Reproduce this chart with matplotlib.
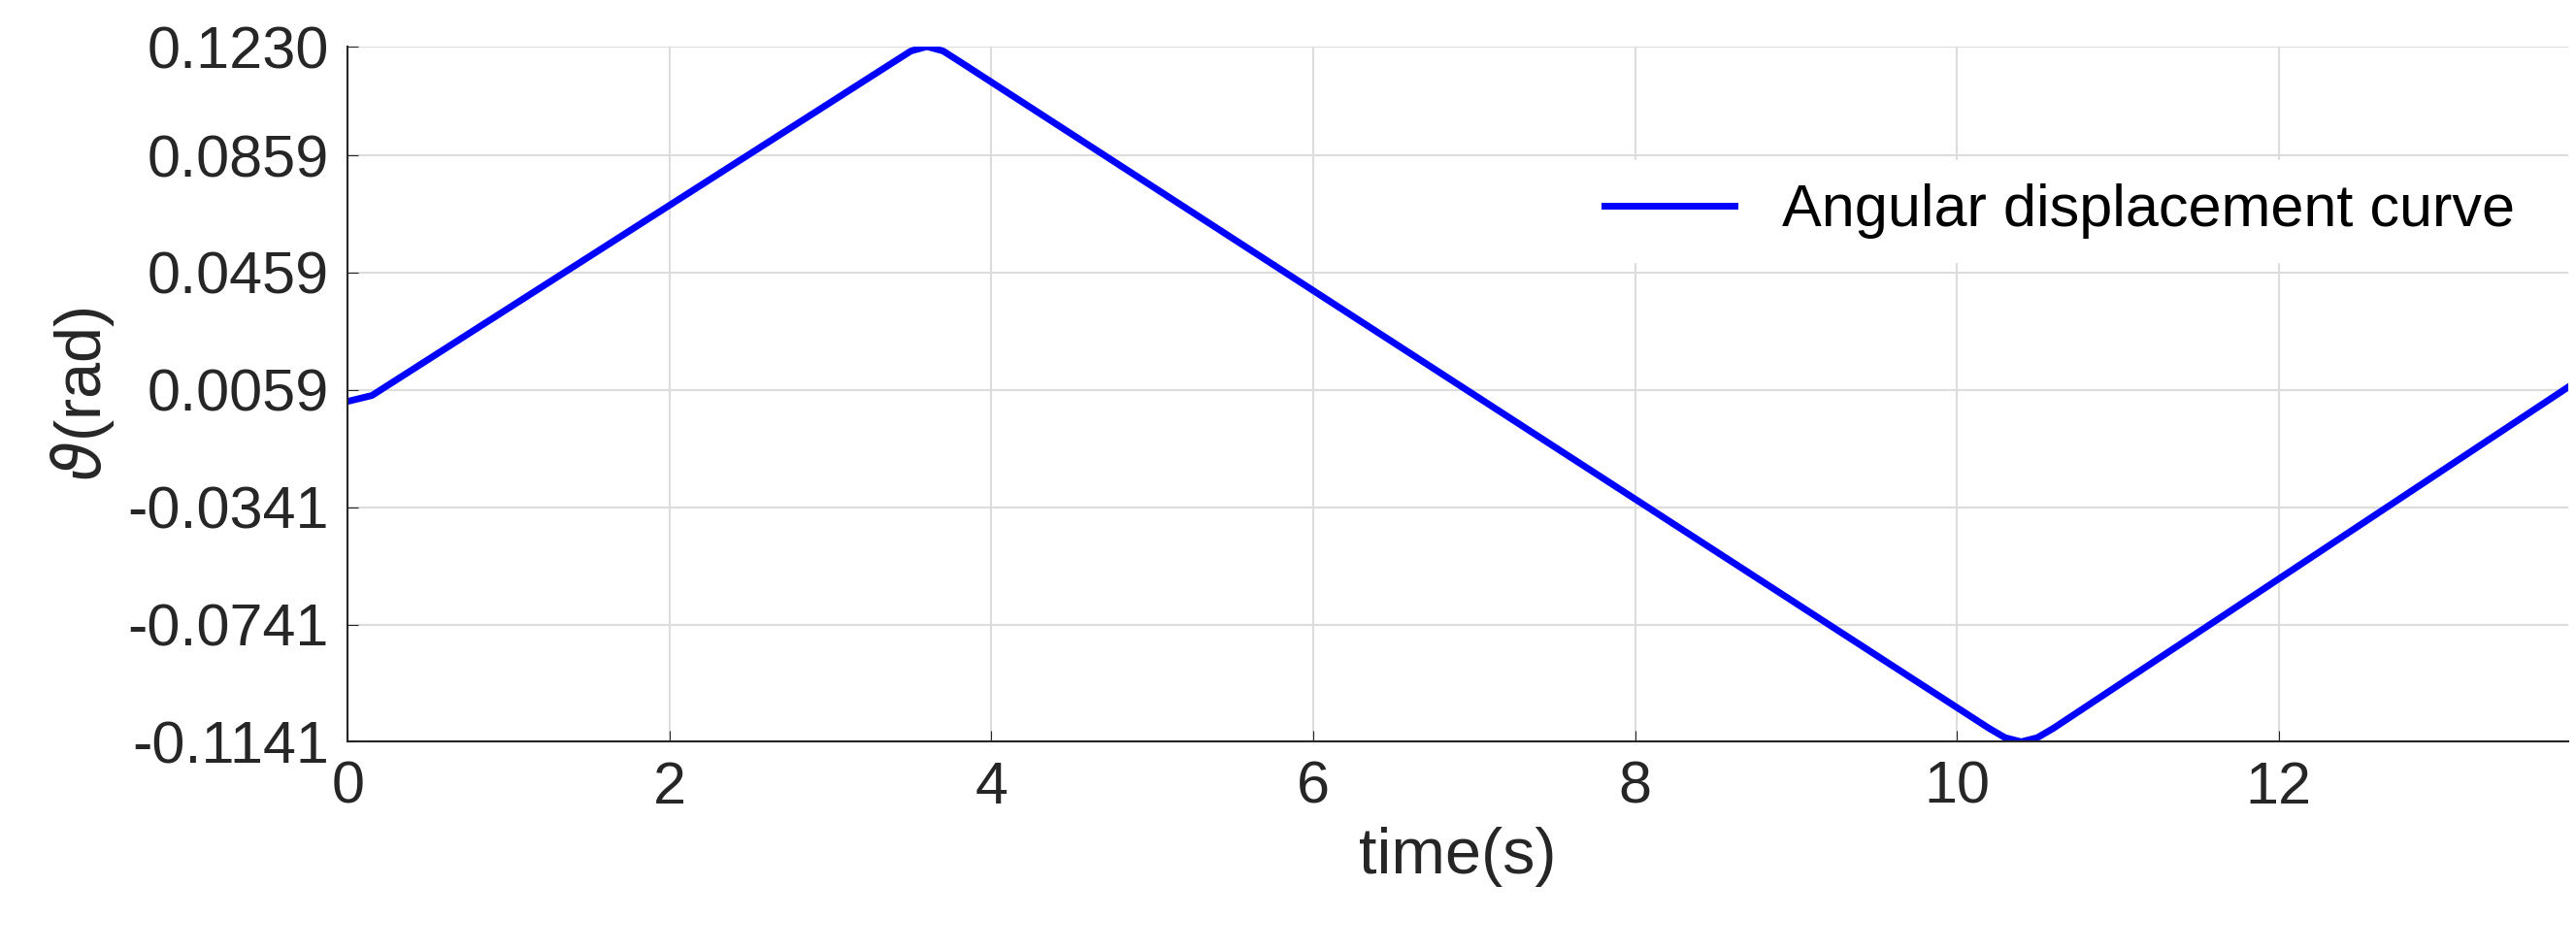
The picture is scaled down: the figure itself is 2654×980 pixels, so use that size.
import matplotlib
matplotlib.use('Agg')
import matplotlib.pyplot as plt

# Angular displacement readings (time in s, theta in rad)
time_s = [0.0, 0.15, 3.4, 3.5, 3.6, 3.7, 3.8, 10.2, 10.3, 10.4, 10.5, 10.6, 13.8]
theta_rad = [0.002, 0.004, 0.118, 0.1215, 0.123, 0.1215, 0.118,
             -0.1095, -0.1127, -0.1141, -0.1127, -0.1095, 0.0069]
y_ticks = [-0.1141, -0.0741, -0.0341, 0.0059, 0.0459, 0.0859, 0.1230]
x_ticks = [0, 2, 4, 6, 8, 10, 12]

plt.rcParams['font.family'] = ['Liberation Sans', 'DejaVu Sans']
fig = plt.figure(figsize=(26.54, 9.8), dpi=100)
ax = fig.add_axes([0.135, 0.22, 0.862, 0.731])
ax.plot(time_s, theta_rad, color='#0000ff', linewidth=5, label='Angular displacement curve')
ax.set_xlim(0, 13.8)
ax.set_ylim(-0.1141, 0.1230)
ax.set_xticks(x_ticks)
ax.set_yticks(y_ticks)
ax.set_yticklabels([f'{v:.4f}' for v in y_ticks])
ax.tick_params(labelsize=44, colors='#262626', direction='in', length=8, pad=14)
ax.grid(True, color='#dcdcdc', linewidth=1.5)
ax.set_axisbelow(True)
for side in ['top', 'right']:
    ax.spines[side].set_visible(False)
for side in ['left', 'bottom']:
    ax.spines[side].set_color('#262626')
    ax.spines[side].set_linewidth(1.5)
ax.set_xlabel('time(s)', fontsize=48, color='#262626', labelpad=8)
ax.set_ylabel(r'$\vartheta$(rad)', fontsize=48, color='#262626', labelpad=8)
leg = ax.legend(loc='upper right', bbox_to_anchor=(1.0, 0.88), fontsize=44,
                frameon=True, framealpha=1, edgecolor='white', handlelength=2.2)
fig.savefig('out.png', dpi=100)
